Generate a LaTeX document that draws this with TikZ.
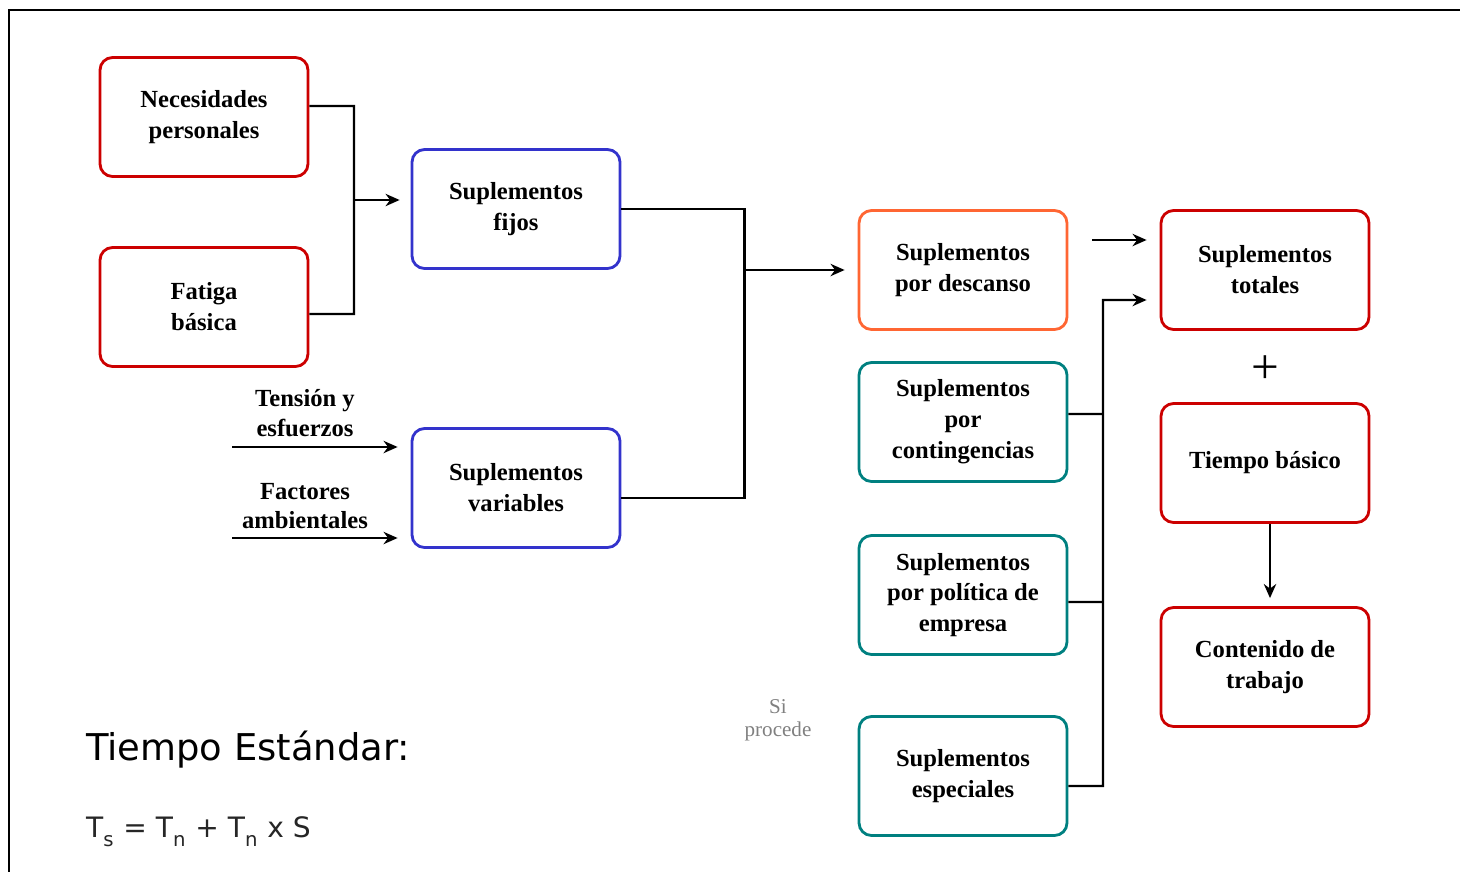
\documentclass[tikz,border=0pt]{standalone}
\usepackage{fontspec}
\setmainfont{Liberation Serif}
\newfontfamily\dejavu{DejaVu Sans}
\usetikzlibrary{arrows.meta}
\definecolor{rojo}{RGB}{204,0,0}
\definecolor{azul}{RGB}{51,51,204}
\definecolor{naranja}{RGB}{255,102,51}
\definecolor{verdeazul}{RGB}{0,128,128}

\begin{document}
\begin{tikzpicture}[x=0.02cm,y=-0.02cm,
  caja/.style={draw=#1, line width=1.6pt, rounded corners=0.25cm, minimum width=4.16cm, minimum height=2.38cm, align=center, font=\fontsize{14}{17.6}\selectfont\bfseries, inner sep=2pt},
  etiqueta/.style={align=center, font=\fontsize{14}{17}\selectfont\bfseries},
  linea/.style={line width=1.4pt},
  flecha/.style={linea, -{Stealth[length=8pt,width=7pt]}}]
\useasboundingbox (0,0) rectangle (1460,872);
% marco
\draw[line width=1.7pt] (1460,10) -- (9,10) -- (9,872);
% suplementos fijos y variables
\node[caja=rojo] (np) at (204,117) {Necesidades\\personales};
\node[caja=rojo] (fb) at (204,307) {Fatiga\\básica};
\node[caja=azul] (sf) at (516,209) {Suplementos\\fijos};
\node[caja=azul] (sv) at (516,488) {Suplementos\\variables};
\draw[linea] ([yshift=0.22cm]np.east) -- (354,106) |- ([yshift=-0.14cm]fb.east);
\coordinate (j1) at (354,200);
\draw[flecha, shorten >=0.22cm] (j1) -- (j1 -| sf.west);
\coordinate (te) at (232,447);
\coordinate (fa) at (232,538);
\draw[flecha, shorten >=0.26cm] (te) -- (te -| sv.west);
\draw[flecha, shorten >=0.26cm] (fa) -- (fa -| sv.west);
\node[etiqueta] (lte) at (305,413) {Tensión y\\esfuerzos};
\node[etiqueta] (lfa) at (305,506) {Factores\\ambientales};
% suplementos por descanso
\node[caja=naranja] (sd) at (963,270) {Suplementos\\por descanso};
\draw[linea] (sf.east) -- ++(123,0) |- ([yshift=-0.2cm]sv.east);
\coordinate (j2) at (745,270);
\draw[flecha, shorten >=0.26cm] (j2) -- (sd.west);
% suplementos en verde
\node[caja=verdeazul] (spc) at (963,422) {Suplementos\\por\\contingencias};
\node[caja=verdeazul] (spe) at (963,595) {Suplementos\\por política de\\empresa};
\node[caja=verdeazul] (ses) at (963,776) {Suplementos\\especiales};
\node[align=center, font=\fontsize{12}{13}\selectfont, text=gray] (sp) at (778,720) {Si\\procede};
% totales
\node[caja=rojo] (st) at (1265,270) {Suplementos\\totales};
\node[caja=rojo] (tb) at (1265,463) {Tiempo básico};
\node[caja=rojo] (ct) at (1265,667) {Contenido de\\trabajo};
\node[font=\fontsize{28}{28}\selectfont] (mas) at (1265,370) {+};
\draw[linea] ([yshift=0.16cm]spc.east) -- (1103,414);
\draw[linea] ([yshift=-0.14cm]spe.east) -- (1103,602);
\coordinate (j3) at (1103,300);
\draw[flecha, shorten >=0.26cm] ([yshift=-0.2cm]ses.east) -- (1103,786) -- (j3) -- (j3 -| st.west);
\coordinate (j4) at (1092,240);
\draw[flecha, shorten >=0.26cm] (j4) -- (j4 -| st.west);
\draw[flecha, shorten >=0.16cm] ([xshift=0.1cm]tb.south) -- ([xshift=0.1cm]ct.north);
% tiempo estandar
\node[anchor=base west, font=\dejavu\fontsize{21}{21}\selectfont] (tit) at (80,760) {Tiempo Estándar:};
\node[anchor=base west, font=\dejavu\fontsize{16}{16}\selectfont, text=black!85] (form) at (80,837) {T\raisebox{-3pt}{\textsubscript{s}} = T\raisebox{-3pt}{\textsubscript{n}} + T\raisebox{-3pt}{\textsubscript{n}} x S};
\end{tikzpicture}
\end{document}
